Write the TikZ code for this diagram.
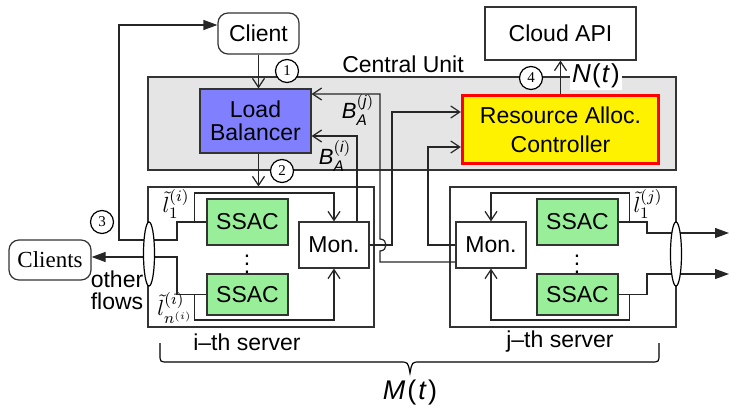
\documentclass[tikz,border=0pt]{standalone}
\usepackage{amsmath}
\usepackage{fontspec}
\setmainfont{Liberation Sans}
\newfontfamily\serifff{Liberation Serif}
\usetikzlibrary{arrows.meta,shapes.geometric,calc}
\definecolor{cugray}{HTML}{E5E5E5}
\definecolor{lbblue}{HTML}{8080FF}
\definecolor{ssacgreen}{HTML}{99EE99}
\begin{document}
\begin{tikzpicture}[x=0.5pt,y=-0.5pt, line width=0.6pt,
  every node/.style={font=\fontsize{11.5}{11.5}\selectfont},
  box/.style={draw=black!80, inner sep=0pt, align=center},
  oarr/.style={draw=black!85,-{Straight Barb[length=4.5pt,width=6pt]}},
  farr/.style={draw=black!85,-{Triangle[length=7pt,width=5pt]}},
  num/.style={circle, draw, fill=white, minimum size=11.5pt, inner sep=0pt, font=\serifff\fontsize{7.5}{8}\selectfont},
  lab/.style={inner sep=0pt},
  flowell/.style={ellipse, draw, fill=white, minimum width=5.5pt, minimum height=32pt, inner sep=0pt},
  ssac/.style={box, fill=ssacgreen, minimum width=40.5pt},
  mon/.style={box, fill=white, minimum width=35pt, minimum height=23pt},
  srv/.style={box, minimum width=113pt, minimum height=70pt}
]
\useasboundingbox (0,0) rectangle (730,407);

% central unit
\node[box, fill=cugray, minimum width=264pt, minimum height=46.5pt] (cu) at (412,123.5) {};
\node[lab, anchor=base] (cutext) at (403,72) {Central Unit};
\node[box, rounded corners=5pt, minimum width=40.5pt, minimum height=20.5pt] (client) at (258.5,33.5) {Client};
\node[box, fill=lbblue, minimum width=55.5pt, minimum height=32pt, font=\fontsize{11.5}{11.5}\selectfont] (lb) at (255.5,121) {Load\\Balancer};
\node[box, minimum width=75.5pt, minimum height=26.5pt] (cloud) at (560.5,33.5) {Cloud API};
\node[box, draw=red, line width=1.7pt, fill=yellow, minimum width=98pt, minimum height=34pt, font=\fontsize{11.5}{14.5}\selectfont] (rac) at (560.5,129.5) {Resource Alloc.\\Controller};

% servers
\node[srv] (srvi) at (261,257) {};
\node[srv] (srvj) at (563,257) {};
\node[ssac, minimum height=23pt] (si1) at (247.5,222) {SSAC};
\node[ssac, minimum height=20.5pt] (sin) at (247.5,294.5) {SSAC};
\node[ssac, minimum height=23pt] (sj1) at (577.5,222) {SSAC};
\node[ssac, minimum height=20.5pt] (sjn) at (577.5,294.5) {SSAC};
\node[mon] (moni) at (334,245) {Mon.};
\node[mon] (monj) at (491,245) {Mon.};
\node[lab] (dotsi) at (247,258) {$\vdots$};
\node[lab] (dotsj) at (577,258) {$\vdots$};
\node[box, rounded corners=5pt, minimum width=41pt, minimum height=20pt, font=\serifff\fontsize{11.5}{11.5}\selectfont] (clients) at (50,260) {Clients};

% i-th server flows
\coordinate (lp) at (119,25);
\coordinate (cj) at (177,257);
\draw[farr] (si1.west) -| (177,240) -| (lp) -- (lp -| client.west);
\draw[farr] (sin.west) -| (cj) -- (cj -| clients.east);
\draw[oarr] ([xshift=-6pt]si1.west) -- ++(0,-29) -| (moni.north);
\draw[oarr] ([xshift=-6pt]sin.west) -- ++(0,25.5) -| (moni.south);

% j-th server flows
\coordinate (oj1) at (729,233);
\coordinate (ojn) at (729,274);
\draw[farr] (sj1.east) -| (647,233) -- (oj1);
\draw[farr] (sjn.east) -| (647,274) -- (ojn);
\draw[oarr] ([xshift=5.5pt]sj1.east) -- ++(0,-29) -| (monj.north);
\draw[oarr] ([xshift=5.5pt]sjn.east) -- ++(0,25.5) -| (monj.south);

% monitor feedback
\draw[oarr] ([xshift=11.5pt]moni.north) |- ([yshift=-7.5pt]lb.east);
\draw[oarr] ([yshift=-8.5pt]monj.west) -- (380,262) -- (380,251) .. controls (388,251) and (388,239) .. (380,239) -- (380,94) -- ([yshift=13.5pt]lb.east);
\draw[oarr] (moni.east) -| (392,112) -- ([yshift=8.75pt]rac.west);
\draw[oarr] (monj.west) -| (428,147) -- ([yshift=-8.75pt]rac.west);

% main arrows
\draw[oarr] (client.south) -- (client.south |- lb.north);
\draw[oarr] (lb.south -| client.south) -- (srvi.north -| client.south);
\draw[oarr] (rac.north) -- (cloud.south);

% ellipses
\node[flowell] (elli) at (149,254) {};
\node[flowell] (ellj) at (676,254) {};

% step numbers
\node[num] (n1) at (287,71) {1};
\node[num] (n2) at (282,171) {2};
\node[num] (n3) at (102,222) {3};
\node[num] (n4) at (531,78) {4};

% labels
\node[lab, font=\fontsize{11}{11}\selectfont] (bj) at (358,110) {$\textit{B}_{\textit{A}}^{(\textit{j})}$};
\node[lab, font=\fontsize{11}{11}\selectfont] (bi) at (335,156) {$\textit{B}_{\textit{A}}^{(\textit{i})}$};
\node[lab, font=\fontsize{11}{11}\selectfont] (li1) at (176,204) {$\tilde{l}_1^{(i)}$};
\node[lab, font=\fontsize{11}{11}\selectfont] (lin) at (175,308) {$\tilde{l}_{n^{(i)}}^{(i)}$};
\node[lab, font=\fontsize{11}{11}\selectfont] (lj1) at (648,204) {$\tilde{l}_1^{(j)}$};
\node[lab, fill=white, inner sep=1pt, font=\fontsize{13}{13}\selectfont] (nt) at (596,76) {\itshape N\kern0.6pt\upshape(\kern0.6pt\itshape t\kern1pt\upshape)};
\node[lab, font=\fontsize{13.5}{13.5}\selectfont] (mt) at (410,393) {\itshape M\kern1pt\upshape(\kern1pt\itshape t\kern1.2pt\upshape)};
\node[lab] (isrv) at (247,342) {i\textendash th server};
\node[lab] (jsrv) at (560,342) {j\textendash th server};
\node[lab, align=left, font=\fontsize{11.5}{11}\selectfont] (of) at (117,290) {other\\flows};

% brace
\draw[line width=0.6pt] (160,343) -- (160,354) .. controls (160,362) .. (168,362) -- (400,362) .. controls (408,362) .. (410,373) .. controls (412,362) .. (420,362) -- (651,362) .. controls (659,362) .. (659,354) -- (659,343);
\end{tikzpicture}
\end{document}
